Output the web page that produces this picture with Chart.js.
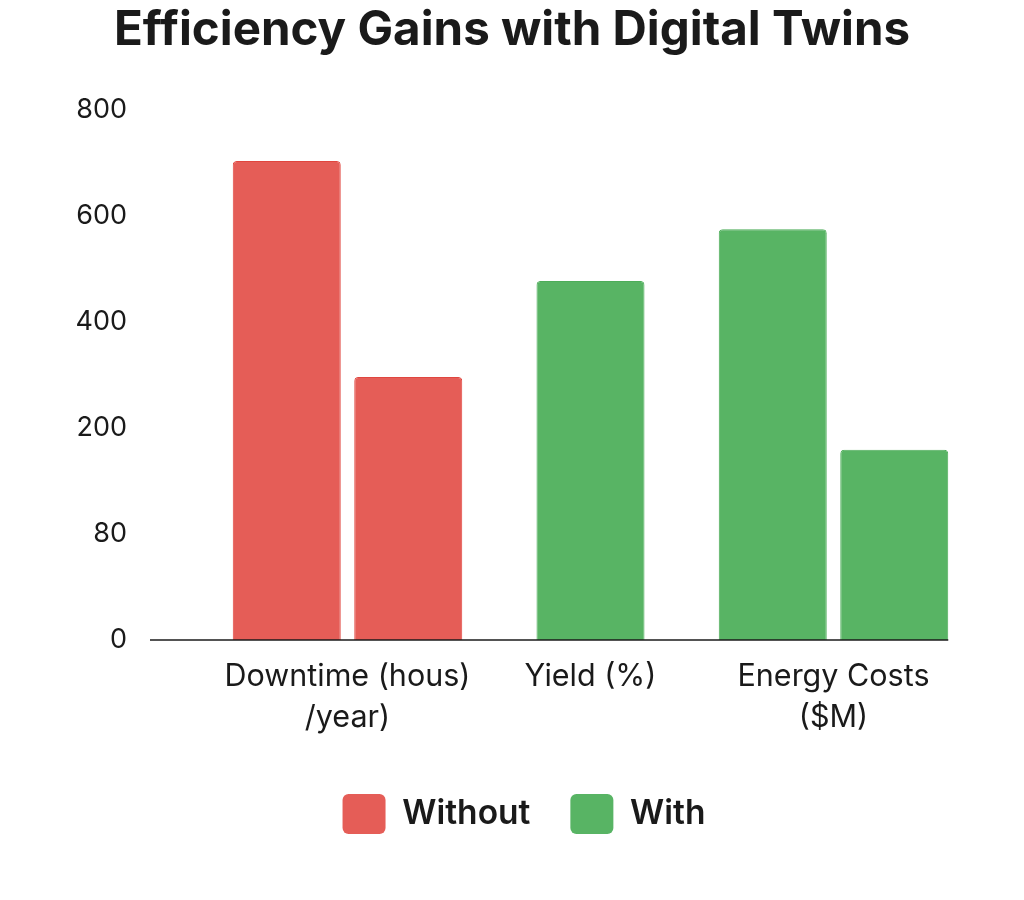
<!DOCTYPE html>
<html>
<head>
<meta charset="utf-8">
<script src="https://cdn.jsdelivr.net/npm/chart.js@4.4.1/dist/chart.umd.min.js"></script>
<style>
html,body{margin:0;padding:0;background:#ffffff;}
#wrap{width:1024px;height:900px;}
canvas{display:block;}
</style>
</head>
<body>
<div id="wrap"><canvas id="c" width="1024" height="900" style="width:1024px;height:900px"></canvas></div>
<script>
// ---- data ----
const chartTitle = 'Efficiency Gains with Digital Twins';
const categories = [['Downtime (hous)', '/year)'], 'Yield (%)', ['Energy Costs', '($M)']];
const seriesNames = ['Without', 'With'];
const withoutValues = [723, null, 620];
const withValues = [397, 542, 287];
const yTickLabels = ['0', '80', '200', '400', '600', '800'];

// ---- styles ----
const RED = '#E55D57';
const RED_EDGE = '#E0463F';
const GREEN = '#58B464';
const GREEN_EDGE = '#4DAD59';
const withoutColors = [RED, RED, GREEN];
const withoutEdges = [RED_EDGE, RED_EDGE, GREEN_EDGE];
const withColors = [RED, GREEN, GREEN];
const withEdges = [RED_EDGE, GREEN_EDGE, GREEN_EDGE];
const legendColors = [RED, GREEN];

const baselinePlugin = {
  id: 'baseline',
  afterDatasetsDraw(chart) {
    const ctx = chart.ctx;
    const y = chart.scales.y.getPixelForValue(0);
    const meta = chart.getDatasetMeta(1);
    const last = meta.data[meta.data.length - 1];
    const right = last ? last.x + last.width / 2 : chart.chartArea.right;
    ctx.save();
    ctx.strokeStyle = '#1a1a1a';
    ctx.lineWidth = 1.5;
    ctx.beginPath();
    ctx.moveTo(150, y);
    ctx.lineTo(right, y);
    ctx.stroke();
    ctx.restore();
  }
};

const legendShift = {
  id: 'legendShift',
  afterLayout(chart) {
    if (chart.legend) { chart.legend.left += 12; chart.legend.right += 12; }
  }
};

new Chart(document.getElementById('c'), {
  type: 'bar',
  data: {
    labels: categories,
    datasets: [
      { label: seriesNames[0], data: withoutValues, backgroundColor: withoutColors, borderColor: withoutEdges },
      { label: seriesNames[1], data: withValues, backgroundColor: withColors, borderColor: withEdges }
    ]
  },
  plugins: [baselinePlugin, legendShift],
  options: {
    responsive: false,
    animation: false,
    layout: { padding: { left: 0, right: 0, top: 0, bottom: 56 } },
    datasets: {
      bar: {
        categoryPercentage: 1.0,
        barPercentage: 0.89,
        maxBarThickness: 108,
        skipNull: true,
        borderWidth: 1,
        borderRadius: { topLeft: 4, topRight: 4, bottomLeft: 0, bottomRight: 0 },
        borderSkipped: 'bottom'
      }
    },
    plugins: {
      title: {
        display: true,
        text: chartTitle,
        color: '#1a1a1a',
        font: { family: 'Inter', size: 47.5, weight: 'bold', lineHeight: 1.2 },
        padding: { top: 2.5, bottom: 50.5 }
      },
      legend: {
        position: 'bottom',
        labels: {
          boxWidth: 43,
          boxHeight: 40,
          padding: 40,
          color: '#1a1a1a',
          font: { family: 'Inter', size: 33.5, weight: '600' },
          useBorderRadius: true,
          borderRadius: 6,
          generateLabels: () => seriesNames.map((n, i) => ({
            text: n,
            fillStyle: legendColors[i],
            strokeStyle: legendColors[i],
            lineWidth: 0,
            fontColor: '#1a1a1a',
            borderRadius: 6,
            datasetIndex: i,
            hidden: false
          }))
        }
      },
      tooltip: { enabled: false }
    },
    scales: {
      x: {
        grid: { display: false, drawTicks: false },
        border: { display: false },
        ticks: {
          color: '#1a1a1a',
          font: { family: 'Inter', size: 30.5, weight: '400', lineHeight: 1.33 },
          padding: 17,
          maxRotation: 0,
          autoSkip: false
        },
        afterFit: (s) => { s.height = 114; }
      },
      y: {
        min: 0,
        max: 800,
        grid: { display: false, drawTicks: false },
        border: { display: false },
        ticks: {
          stepSize: 160,
          color: '#1a1a1a',
          font: { family: 'Inter', size: 27, weight: '400' },
          padding: 99,
          callback: (v, i) => yTickLabels[i]
        },
        afterFit: (s) => { s.width = 226; s.paddingTop = 16; s.paddingBottom = 16; }
      },
      yRight: {
        position: 'right',
        display: true,
        min: 0,
        max: 800,
        grid: { display: false, drawTicks: false },
        border: { display: false },
        ticks: { display: false },
        afterFit: (s) => { s.width = 69; s.paddingTop = 0; s.paddingBottom = 0; }
      }
    }
  }
});
</script>
</body>
</html>
